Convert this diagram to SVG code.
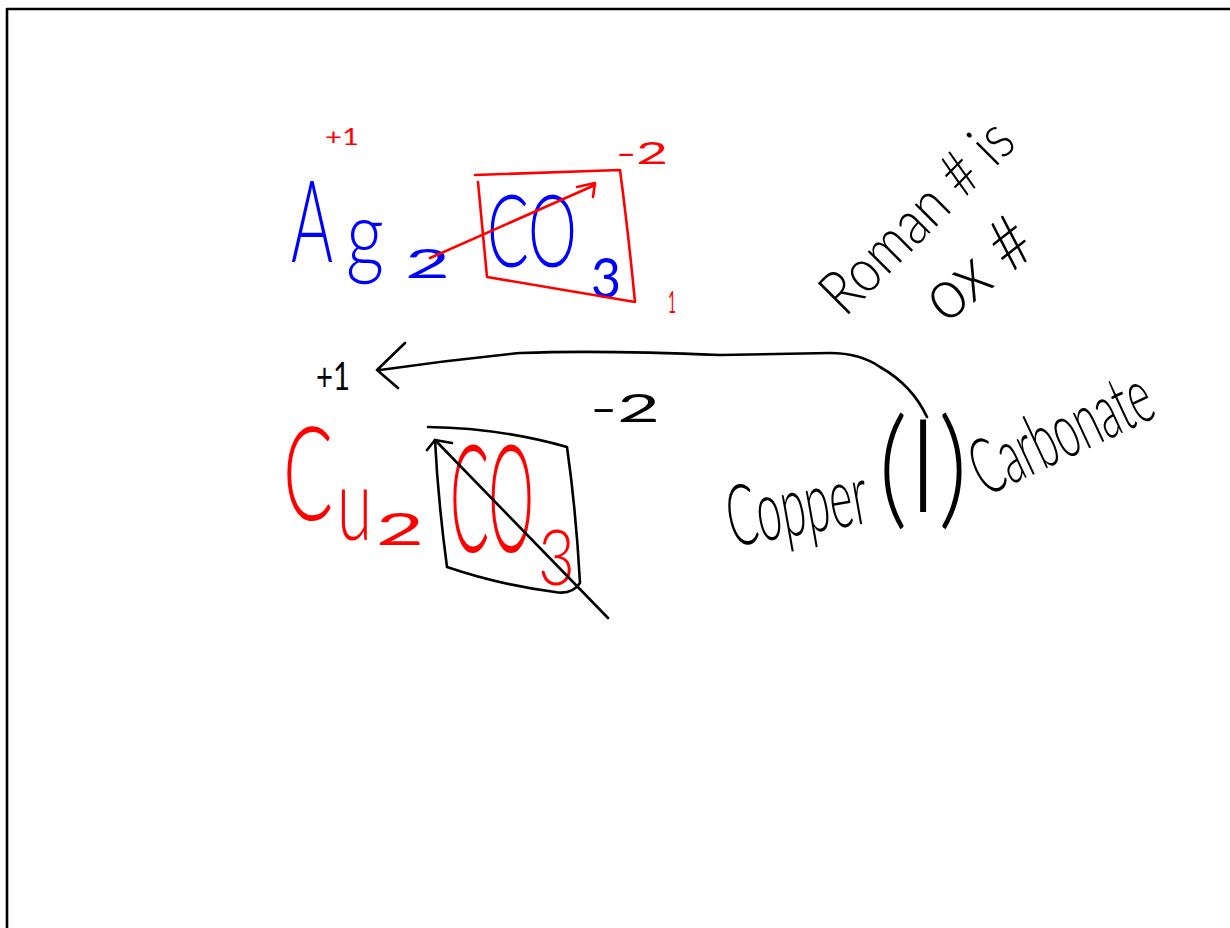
<svg xmlns="http://www.w3.org/2000/svg" width="1230" height="928" viewBox="0 0 1230 928">
<style>
.ln{fill:none;stroke-linecap:round;stroke-linejoin:round;stroke-width:2.6}
.k{stroke:#000}
.r{stroke:#ff0000}
.t{font-family:"Lato","Inter","Open Sans","Liberation Sans",sans-serif;font-weight:300}
.s{font-weight:400}
.bt{fill:#0000ff}
.rt{fill:#ff0000}
.kt{fill:#000}
</style>
<rect x="0" y="0" width="1230" height="928" fill="#fff"/>
<path class="ln k" d="M7 928 V9 H1230" stroke-width="2.4"/>
<!-- silver carbonate -->
<g id="ag2co3">
<text class="t s rt" x="325" y="145" font-size="24" textLength="34" lengthAdjust="spacingAndGlyphs">+1</text>
<text class="t bt" x="291" y="262" font-size="115" textLength="42" lengthAdjust="spacingAndGlyphs">A</text>
<text class="t bt" x="346" y="267" font-size="92" textLength="38" lengthAdjust="spacingAndGlyphs">g</text>
<text class="t s bt" x="405" y="278" font-size="40" textLength="45" lengthAdjust="spacingAndGlyphs">2</text>
<text class="t bt" x="487" y="267" font-size="100" textLength="90" lengthAdjust="spacingAndGlyphs">CO</text>
<text class="t s bt" x="591" y="298" font-size="56" textLength="30" lengthAdjust="spacingAndGlyphs">3</text>
<text class="t s rt" x="616" y="164" font-size="30" textLength="52" lengthAdjust="spacingAndGlyphs">-2</text>
<text class="t s rt" x="668" y="313" font-size="30" textLength="8" lengthAdjust="spacingAndGlyphs">1</text>
<path class="ln r" d="M475 175 L620 170 Q628 230 635 302 L487 277 L478 182"/>
<path class="ln r" d="M430 258 L595 185 M577 187 L595 183 L593 197"/>
</g>
<!-- copper carbonate -->
<g id="cu2co3">
<text class="t s kt" x="316" y="390" font-size="38" textLength="34" lengthAdjust="spacingAndGlyphs">+1</text>
<text class="t s kt" x="590" y="422" font-size="38" textLength="70" lengthAdjust="spacingAndGlyphs">-2</text>
<text class="t rt" x="283" y="520" font-size="130" textLength="50" lengthAdjust="spacingAndGlyphs">C</text>
<text class="t rt" x="337" y="540" font-size="100" textLength="35" lengthAdjust="spacingAndGlyphs">u</text>
<text class="t s rt" x="376" y="545" font-size="45" textLength="48" lengthAdjust="spacingAndGlyphs">2</text>
<text class="t rt" x="450" y="552" font-size="150" textLength="84" lengthAdjust="spacingAndGlyphs">CO</text>
<text class="t rt" x="538" y="585" font-size="76" textLength="37" lengthAdjust="spacingAndGlyphs">3</text>
<path class="ln k" d="M428 427 Q500 428 567 447 Q576 510 580 583 Q572 595 555 592 Q500 585 447 567 Q438 500 435 440"/>
<path class="ln k" d="M608 618 L435 440 M427 450 L435 440 L452 443"/>
</g>
<!-- name -->
<g id="name">
<text class="t kt" x="732" y="547" font-size="85" textLength="142" lengthAdjust="spacingAndGlyphs" transform="rotate(-10 732 547)">Copper</text>
<text class="t kt" x="878" y="512" font-size="130" textLength="90" lengthAdjust="spacingAndGlyphs">(I)</text>
<text class="t kt" x="985" y="497" font-size="78" textLength="192" lengthAdjust="spacingAndGlyphs" transform="rotate(-25 985 497)">Carbonate</text>
</g>
<g id="note">
<text class="t kt" x="845" y="318" font-size="62" textLength="245" lengthAdjust="spacingAndGlyphs" transform="rotate(-45 845 318)">Roman # is</text>
<text class="t kt" x="945" y="325" font-size="72" textLength="120" lengthAdjust="spacingAndGlyphs" transform="rotate(-38 945 325)">ox #</text>
</g>
<g id="connectors">
<path class="ln k" d="M927 417 Q912 385 880 367 Q860 353 830 353 L720 355 Q600 350 520 353 Q450 360 380 370 M405 343 L377 370 L398 388"/>
</g>
</svg>
